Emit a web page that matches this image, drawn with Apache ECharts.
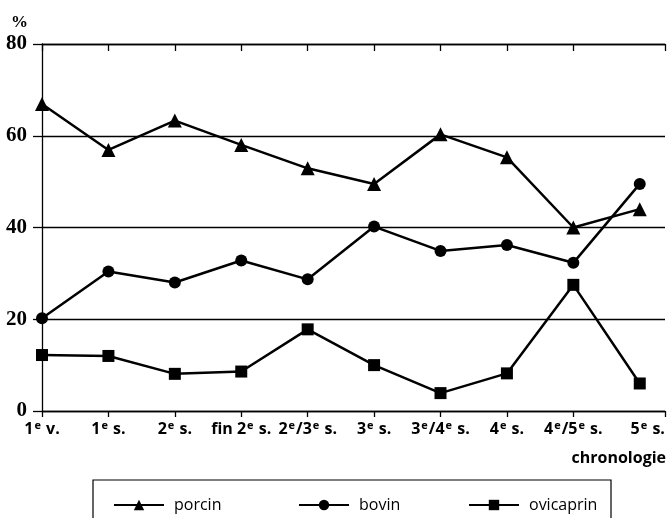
<!DOCTYPE html>
<html>
<head>
<meta charset="utf-8">
<script src="https://cdn.jsdelivr.net/npm/echarts@6/dist/echarts.min.js"></script>
<style>html,body{margin:0;padding:0;background:#fff}#c{width:668px;height:518px}</style>
</head>
<body>
<div id="c"></div>
<script>
var categories = ['1e v.', '1e s.', '2e s.', 'fin 2e s.', '2e/3e s.', '3e s.', '3e/4e s.', '4e s.', '4e/5e s.', '5e s.'];
var porcin = [66.9, 56.9, 63.3, 58.0, 52.9, 49.5, 60.3, 55.3, 40.0, 44.0];
var bovin = [20.2, 30.4, 28.0, 32.8, 28.7, 40.2, 34.9, 36.2, 32.3, 49.5];
var ovicaprin = [12.2, 12.0, 8.1, 8.6, 17.8, 10.0, 3.9, 8.2, 27.5, 6.0];
var yTicks = [0, 20, 40, 60, 80];

var chart = echarts.init(document.getElementById('c'));
function pts(arr) { return arr.map(function (v, i) { return [i, v]; }); }
var idx = categories.map(function (c, i) { return i; });
var xMax = 9.38;
function fmt(v) {
  var s = categories[Math.round(v)];
  if (s === undefined) return '';
  return '{b|' + s.replace(/(\d)e/g, '$1}{sup|e}{b|') + '}';
}
var xBase = {
  type: 'value', min: 0, max: xMax,
  axisLine: { show: true, onZero: false, lineStyle: { color: '#000', width: 1.3 } },
  splitLine: { show: false }
};
var sFont = 'Open Sans';
function mkSeries(name, data, symbol, size) {
  return {
    name: name, type: 'line', data: pts(data), symbol: symbol, symbolSize: size,
    lineStyle: { color: '#000', width: 2.5 }, itemStyle: { color: '#000' },
    emphasis: { disabled: true }, animation: false, z: 3
  };
}
function mkLegend(name, left) {
  return {
    data: [name], left: left, top: 492, itemWidth: 50, itemHeight: 13,
    textStyle: { fontFamily: sFont, fontSize: 16, color: '#000', padding: [0, 0, 0, 5] },
    selectedMode: false
  };
}
chart.setOption({
  animation: false,
  grid: { left: 42, right: 3, top: 44, bottom: 107 },
  xAxis: [
    Object.assign({}, xBase, {
      axisTick: { show: true, length: 6, customValues: idx.slice(0, 9).concat([xMax]), lineStyle: { color: '#000', width: 1.3 } },
      axisLabel: {
        customValues: idx.slice(0, 9).concat([9.12]), margin: 9,
        formatter: fmt,
        rich: {
          b: { fontFamily: sFont, fontWeight: 'bold', fontSize: 16, color: '#000', lineHeight: 19 },
          sup: { fontFamily: sFont, fontWeight: 'bold', fontSize: 11, color: '#000', lineHeight: 19, verticalAlign: 'top', padding: [0, 1, 7, 1] }
        }
      }
    }),
    Object.assign({}, xBase, {
      axisTick: { show: true, inside: true, length: 7, customValues: idx.slice(0, 9).concat([xMax]), lineStyle: { color: '#000', width: 1.3 } },
      axisLabel: { show: false }
    })
  ],
  yAxis: {
    type: 'value', min: 0, max: 80, interval: 20,
    name: '%', nameLocation: 'end', nameGap: 13,
    nameTextStyle: { fontFamily: 'Liberation Serif', fontWeight: 'bold', fontSize: 17, color: '#000', align: 'right', padding: [0, 14, 0, 0] },
    axisLine: { show: true, lineStyle: { color: '#000', width: 1.3 } },
    axisTick: { show: true, length: 9, lineStyle: { color: '#000', width: 1.3 } },
    axisLabel: {
      margin: 15, fontFamily: 'Liberation Serif', fontWeight: 'bold', fontSize: 21, color: '#000',
      customValues: yTicks
    },
    splitLine: { show: true, lineStyle: { color: '#000', width: 1.3 } }
  },
  legend: [mkLegend('porcin', 108), mkLegend('bovin', 293), mkLegend('ovicaprin', 463)],
  graphic: [
    { type: 'rect', shape: { x: 93, y: 480, width: 518, height: 60 }, style: { fill: 'none', stroke: '#000', lineWidth: 1.2 }, silent: true },
    { type: 'text', x: 666, y: 458, style: { text: 'chronologie', fontFamily: sFont, fontWeight: 'bold', fontSize: 16, fill: '#000', align: 'right', verticalAlign: 'middle' }, silent: true }
  ],
  series: [
    mkSeries('porcin', porcin, 'triangle', 14),
    mkSeries('bovin', bovin, 'circle', 12),
    mkSeries('ovicaprin', ovicaprin, 'rect', 12)
  ]
});
</script>
</body>
</html>
